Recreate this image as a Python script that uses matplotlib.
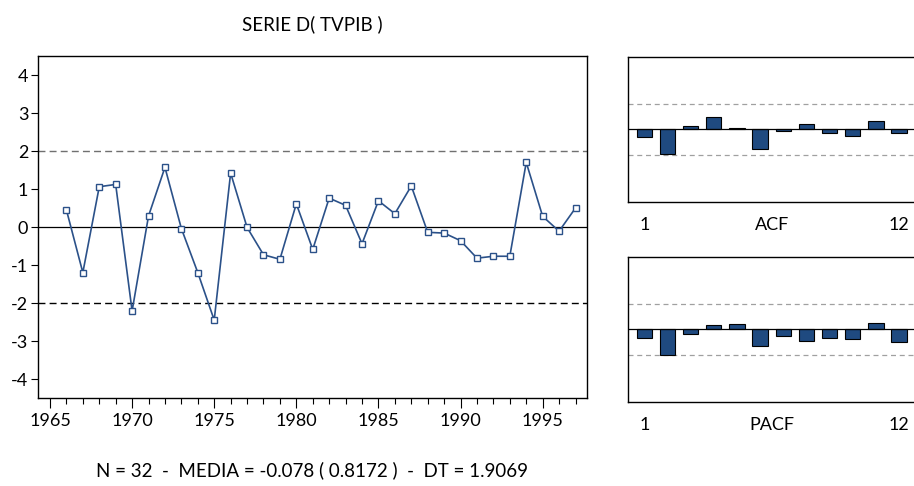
import matplotlib
matplotlib.use('Agg')
import matplotlib.pyplot as plt
import numpy as np

plt.rcParams['font.family'] = ['Lato', 'DejaVu Sans']
plt.rcParams['font.size'] = 13

# Datos
anios = list(range(1966, 1998))
serie = [0.45, -1.20, 1.06, 1.12, -2.21, 0.29, 1.57, -0.04, -1.20, -2.45,
         1.42, -0.01, -0.73, -0.85, 0.61, -0.59, 0.76, 0.57, -0.44, 0.69,
         0.35, 1.08, -0.14, -0.16, -0.36, -0.82, -0.77, -0.77, 1.70, 0.28,
         -0.11, 0.50]

rezagos = list(range(1, 13))
acf = [-0.114, -0.34, 0.05, 0.17, 0.023, -0.28, -0.018, 0.068, -0.046, -0.087, 0.119, -0.059]
pacf = [-0.114, -0.36, -0.059, 0.055, 0.068, -0.224, -0.096, -0.155, -0.119, -0.128, 0.082, -0.178]

titulo = 'SERIE D( TVPIB )'
pie = 'N = 32  -  MEDIA = -0.078 ( 0.8172 )  -  DT = 1.9069'

azul = '#2b5189'
barra = '#1f4a80'

W, H = 914, 486
fig = plt.figure(figsize=(W / 100, H / 100), dpi=100)


def caja(x0, y0, x1, y1):
    return [x0 / W, 1 - y1 / H, (x1 - x0) / W, (y1 - y0) / H]


# Gráfico principal
ax = fig.add_axes(caja(38, 56, 587, 398))
ax.plot(anios, serie, color=azul, lw=1.2, marker='s', markersize=5,
        markerfacecolor='white', markeredgecolor=azul, markeredgewidth=1.0, zorder=3)
ax.axhline(0, color='black', lw=0.9)
ax.axhline(2, color='#707070', lw=1.0, ls=(0, (5, 3)))
ax.axhline(-2, color='black', lw=1.0, ls=(0, (5, 3)))
ax.set_xlim(1964.27, 1997.7)
ax.set_ylim(-4.5, 4.5)
ax.set_yticks(range(-4, 5))
ax.set_yticklabels([str(v) for v in range(-4, 5)])
ax.set_xticks(range(1965, 1996, 5))
ax.set_xticks(range(1965, 1998), minor=True)
ax.tick_params(axis='x', which='major', length=7, width=0.8, pad=4)
ax.tick_params(axis='x', which='minor', length=4, width=0.8)
ax.tick_params(axis='y', length=5, width=0.8, pad=2)
for s in ax.spines.values():
    s.set_linewidth(1.0)

fig.text(312.5 / W, 1 - 24 / H, titulo, ha='center', va='center', fontsize=13.5)
fig.text(312.5 / W, 1 - 470 / H, pie, ha='center', va='center', fontsize=13.5)

# ACF y PACF
banda = 2 / np.sqrt(len(serie))
for vals, nombre, y0, y1 in [(acf, 'ACF', 56.7, 201.7), (pacf, 'PACF', 257, 401.7)]:
    a = fig.add_axes(caja(628, y0, 920, y1))
    a.bar(rezagos, vals, width=0.66, color=barra, edgecolor='black', linewidth=0.8, zorder=3)
    a.axhline(0, color='black', lw=0.9, zorder=4)
    a.axhline(banda, color='#a0a0a0', lw=0.9, ls=(0, (4, 3)))
    a.axhline(-banda, color='#a0a0a0', lw=0.9, ls=(0, (4, 3)))
    a.set_xlim(0.3, 12.9)
    a.set_ylim(-1, 1)
    a.set_yticks([])
    a.set_xticks([1, 6.5, 12])
    a.set_xticklabels(['1', nombre, '12'])
    a.tick_params(axis='x', length=0, pad=11)
    for s in a.spines.values():
        s.set_linewidth(1.0)

plt.savefig('out.png', dpi=100)
